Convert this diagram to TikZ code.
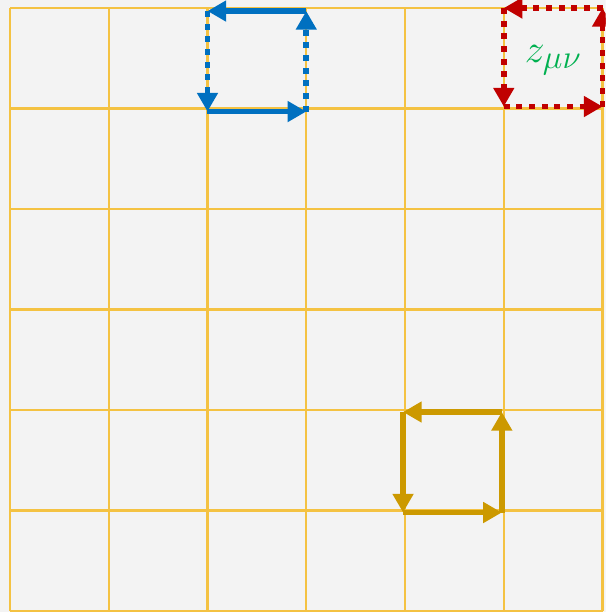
\documentclass[tikz,border=0pt]{standalone}
\usepackage{graphicx}
\usepackage{tikz}
\usetikzlibrary{arrows.meta}

\definecolor{paper}{HTML}{F3F3F3}
\definecolor{gridgold}{HTML}{F4C242}
\definecolor{loopblue}{HTML}{0070C0}
\definecolor{loopred}{HTML}{C00000}
\definecolor{loopgold}{HTML}{CC9900}
\definecolor{labelgreen}{HTML}{00B050}

\begin{document}
\begin{tikzpicture}[
    x=74.1pt, y=-75.4pt,
    gridline/.style={draw=gridgold, line width=1.6pt},
    linkedge/.style={line width=4.3pt, -{Triangle[length=14pt, width=15pt]}},
    dotedge/.style={linkedge, dash pattern=on 4.5pt off 5pt},
    zlabel/.style={text=labelgreen, font=\Huge}
]

% --- Background and lattice ---
\useasboundingbox (-0.101,-0.080) rectangle (6.032,6.010);
\clip (-0.101,-0.080) rectangle (6.032,6.010);
\fill[paper] (-0.101,-0.080) rectangle (6.032,6.010);
\foreach \k in {0,...,6} {
    \draw[gridline] (\k,0) -- (\k,6);
    \draw[gridline] (0,\k) -- (6,\k);
}

% --- Blue plaquette (top) ---
\coordinate (b1) at (2,1.03);
\coordinate (b2) at (3,1.03);
\coordinate (b3) at (3,0.03);
\coordinate (b4) at (2,0.03);
\draw[linkedge, loopblue] (b1) -- (b2);
\draw[dotedge, loopblue] (b2) -- (b3);
\draw[linkedge, loopblue] (b3) -- (b4);
\draw[dotedge, loopblue] (b4) -- (b1);

% --- Red plaquette (top right) ---
\coordinate (r1) at (5,0.98);
\coordinate (r2) at (6,0.98);
\coordinate (r3) at (6,0);
\coordinate (r4) at (5,0);
\draw[dotedge, loopred] (r1) -- (r2);
\draw[dotedge, loopred] (r2) -- (r3);
\draw[dotedge, loopred] (r3) -- (r4);
\draw[dotedge, loopred] (r4) -- (r1);
\node[zlabel] (z) at (5.5,0.52) {\scalebox{1.2}{$z_{\mu\nu}$}};

% --- Gold plaquette (bottom) ---
\coordinate (g1) at (3.98,5.02);
\coordinate (g2) at (4.98,5.02);
\coordinate (g3) at (4.98,4.02);
\coordinate (g4) at (3.98,4.02);
\draw[linkedge, loopgold] (g1) -- (g2);
\draw[linkedge, loopgold] (g2) -- (g3);
\draw[linkedge, loopgold] (g3) -- (g4);
\draw[linkedge, loopgold] (g4) -- (g1);

\end{tikzpicture}
\end{document}
